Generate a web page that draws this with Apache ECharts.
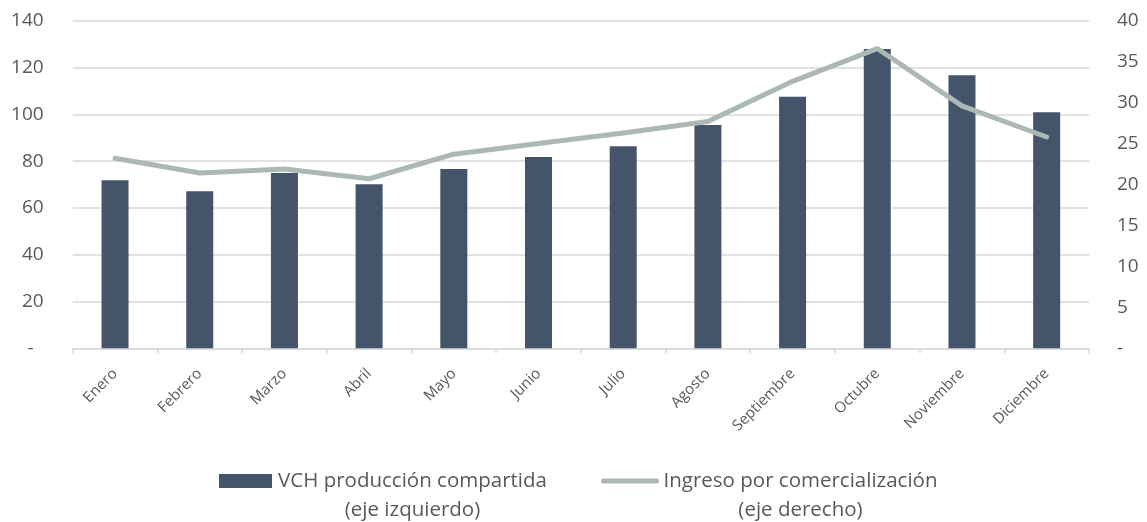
<!DOCTYPE html>
<html>
<head>
<meta charset="utf-8">
<script src="https://cdn.jsdelivr.net/npm/echarts@6/dist/echarts.min.js"></script>
<style>
html,body{margin:0;padding:0;background:#fff;}
#chart{width:1147px;height:522px;}
</style>
</head>
<body>
<div id="chart"></div>
<script>
const categories = ['Enero','Febrero','Marzo','Abril','Mayo','Junio','Julio','Agosto','Septiembre','Octubre','Noviembre','Diciembre'];
const vchValues = [71.8, 67.1, 74.9, 70.1, 76.6, 81.8, 86.3, 95.4, 107.5, 127.9, 116.7, 100.9];
const ingresoValues = [23.2, 21.4, 21.9, 20.7, 23.7, 25.0, 26.3, 27.7, 32.6, 36.6, 29.6, 25.8];
const leftTicks = {min: 0, max: 140, interval: 20};
const rightTicks = {min: 0, max: 40, interval: 5};
const seriesNames = ['VCH producción compartida\n(eje izquierdo)', 'Ingreso por comercialización\n(eje derecho)'];

const FONT = 'Open Sans';
const TXT = '#595959';
const GRID = '#d9d9d9';
const LINE = '#abb8b5';

const chart = echarts.init(document.getElementById('chart'), null, {renderer: 'canvas'});
const legendWidths = [271, 278];

chart.setOption({
  animation: false,
  textStyle: {fontFamily: FONT},
  grid: {left: 72.7, right: 58, top: 20.7, bottom: 173.7, containLabel: false},
  legend: {
    left: 219,
    top: 470.5,
    padding: 0,
    itemWidth: 53,
    itemHeight: 14,
    itemGap: 53,
    data: [
      {name: seriesNames[0], icon: 'rect'},
      {name: seriesNames[1], itemStyle: {opacity: 0}, lineStyle: {width: 5, cap: 'round', color: LINE}}
    ],
    formatter: function (name) {
      const idx = seriesNames.indexOf(name);
      const lines = name.split('\n');
      const key = idx === 0 ? 'a' : 'b';
      return lines.map(l => '{' + key + '|' + l + '}').join('\n');
    },
    textStyle: {
      padding: [29, 0, 0, 0],
      rich: {
        a: {width: legendWidths[0], align: 'center', fontSize: 20.5, lineHeight: 29, color: TXT, fontFamily: FONT},
        b: {width: legendWidths[1], align: 'center', fontSize: 20.5, lineHeight: 29, color: TXT, fontFamily: FONT}
      }
    }
  },
  xAxis: {
    type: 'category',
    data: categories,
    boundaryGap: true,
    axisLine: {lineStyle: {color: GRID, width: 1.5}},
    axisTick: {show: true, length: 5, lineStyle: {color: GRID, width: 1.5}},
    axisLabel: {rotate: 45, fontSize: 15, color: TXT, margin: 23, fontFamily: FONT, interval: 0}
  },
  yAxis: [
    {
      type: 'value',
      min: leftTicks.min, max: leftTicks.max, interval: leftTicks.interval,
      axisLine: {show: false},
      axisTick: {show: false},
      splitLine: {lineStyle: {color: GRID, width: 1.5}},
      axisLabel: {
        fontSize: 19, color: TXT, margin: 29, fontFamily: FONT,
        formatter: function (v) { return v === 0 ? '{d|-}' : String(v); },
        rich: {d: {fontSize: 19, color: TXT, padding: [0, 10, 0, 0], fontFamily: FONT}}
      }
    },
    {
      type: 'value',
      min: rightTicks.min, max: rightTicks.max, interval: rightTicks.interval,
      axisLine: {show: false},
      axisTick: {show: false},
      splitLine: {show: false},
      axisLabel: {
        fontSize: 19, color: TXT, margin: 28, fontFamily: FONT,
        formatter: function (v) { return v === 0 ? '-' : String(v); }
      }
    }
  ],
  series: [
    {
      name: seriesNames[0],
      type: 'bar',
      yAxisIndex: 0,
      data: vchValues,
      barWidth: 27,
      itemStyle: {color: '#44546a'}
    },
    {
      name: seriesNames[1],
      type: 'line',
      yAxisIndex: 1,
      data: ingresoValues,
      symbol: 'none',
      showSymbol: false,
      lineStyle: {color: LINE, width: 5, cap: 'round', join: 'round'},
      itemStyle: {color: LINE},
      z: 3
    }
  ]
});
</script>
</body>
</html>
